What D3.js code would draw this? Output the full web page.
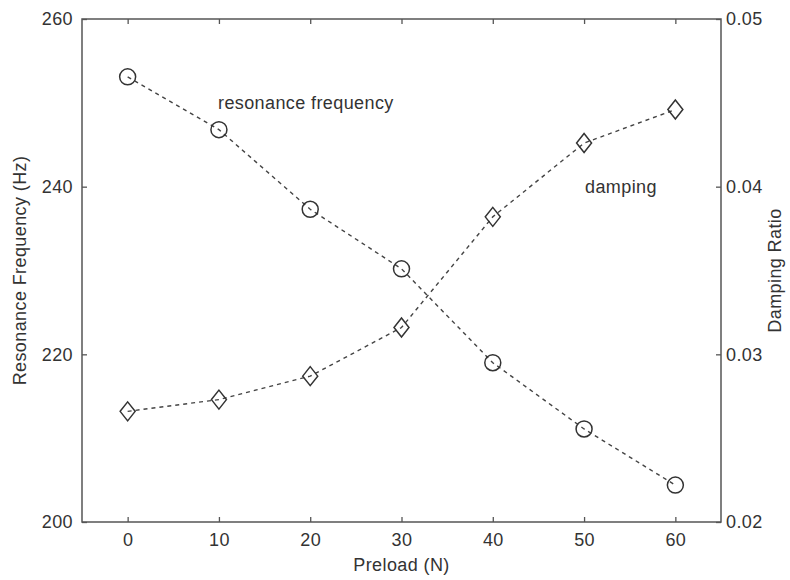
<!DOCTYPE html>
<html>
<head>
<meta charset="utf-8">
<script src="https://cdn.jsdelivr.net/npm/d3@7"></script>
<style>
  html, body { margin: 0; padding: 0; background: #fff; }
  text { font-family: "Liberation Sans", Arial, sans-serif; letter-spacing: 0.4px; }
</style>
</head>
<body>
<script>
// Preload sweep and measured response
const preload = [0, 10, 20, 30, 40, 50, 60];
const resonanceFrequency = [253.1, 246.8, 237.3, 230.2, 219.0, 211.1, 204.4];
const dampingRatio = [0.0266, 0.0273, 0.0287, 0.0316, 0.0382, 0.0426, 0.0446];

const xTicks = [0, 10, 20, 30, 40, 50, 60];
const freqTicks = [200, 220, 240, 260];
const dampTicks = [0.02, 0.03, 0.04, 0.05];

const W = 790, H = 580;
const m = { left: 82, right: 69, top: 19, bottom: 58 };

const svg = d3.select("body").append("svg")
  .attr("width", W).attr("height", H);

const x = d3.scaleLinear().domain([-5, 65]).range([m.left, W - m.right]);
const yL = d3.scaleLinear().domain([200, 260]).range([H - m.bottom, m.top]);
const yR = d3.scaleLinear().domain([0.02, 0.05]).range([H - m.bottom, m.top]);

const axisColor = "#555";
const textColor = "#333";
const fs = 18;

// frame
svg.append("rect")
  .attr("x", m.left).attr("y", m.top)
  .attr("width", W - m.left - m.right).attr("height", H - m.top - m.bottom)
  .attr("fill", "none").attr("stroke", axisColor).attr("stroke-width", 1.5);

function styleAxis(g, labels) {
  g.select(".domain").remove();
  g.selectAll(".tick line").attr("stroke", axisColor).attr("stroke-width", 1.3);
  g.selectAll(".tick text")
    .attr("fill", textColor)
    .style("font-size", fs + "px")
    .style("font-family", "'Liberation Sans', Arial, sans-serif")
    .attr("opacity", labels ? 1 : 0);
}

// bottom and top x ticks (pointing inward)
svg.append("g").attr("transform", `translate(0,${H - m.bottom})`)
  .call(d3.axisBottom(x).tickValues(xTicks).tickSize(-5).tickPadding(11).tickFormat(d3.format("d")))
  .call(g => styleAxis(g, true));
svg.append("g").attr("transform", `translate(0,${m.top})`)
  .call(d3.axisTop(x).tickValues(xTicks).tickSize(-5).tickFormat(""))
  .call(g => styleAxis(g, false));

// left frequency axis
svg.append("g").attr("transform", `translate(${m.left},0)`)
  .call(d3.axisLeft(yL).tickValues(freqTicks).tickSize(-5).tickPadding(9).tickFormat(d3.format("d")))
  .call(g => styleAxis(g, true));

// right damping axis
svg.append("g").attr("transform", `translate(${W - m.right},0)`)
  .call(d3.axisRight(yR).tickValues(dampTicks).tickSize(-5).tickPadding(5).tickFormat(d3.format(".2f")))
  .call(g => styleAxis(g, true));

// axis titles
svg.append("text")
  .attr("x", (m.left + W - m.right) / 2).attr("y", H - 9)
  .attr("text-anchor", "middle").attr("fill", textColor)
  .style("font-size", fs + "px").text("Preload (N)");

svg.append("text")
  .attr("transform", `translate(26,${(m.top + H - m.bottom) / 2}) rotate(-90)`)
  .attr("text-anchor", "middle").attr("fill", textColor)
  .style("font-size", fs + "px").text("Resonance Frequency (Hz)");

svg.append("text")
  .attr("transform", `translate(781,${(m.top + H - m.bottom) / 2}) rotate(-90)`)
  .attr("text-anchor", "middle").attr("fill", textColor)
  .style("font-size", fs + "px").text("Damping Ratio");

// series lines
const lineStyle = sel => sel.attr("fill", "none").attr("stroke", "#444")
  .attr("stroke-width", 1.4).attr("stroke-dasharray", "4,4");

const freqPts = preload.map((p, i) => [p, resonanceFrequency[i]]);
const dampPts = preload.map((p, i) => [p, dampingRatio[i]]);

svg.append("path").datum(freqPts)
  .attr("d", d3.line().x(d => x(d[0])).y(d => yL(d[1])))
  .call(lineStyle);
svg.append("path").datum(dampPts)
  .attr("d", d3.line().x(d => x(d[0])).y(d => yR(d[1])))
  .call(lineStyle);

// circle markers for frequency
svg.append("g").selectAll("circle").data(freqPts).join("circle")
  .attr("cx", d => x(d[0])).attr("cy", d => yL(d[1])).attr("r", 8)
  .attr("fill", "none").attr("stroke", "#333").attr("stroke-width", 1.5);

// diamond markers for damping
svg.append("g").selectAll("path").data(dampPts).join("path")
  .attr("transform", d => `translate(${x(d[0])},${yR(d[1])})`)
  .attr("d", "M0,-9.5L7.5,0L0,9.5L-7.5,0Z")
  .attr("fill", "none").attr("stroke", "#333").attr("stroke-width", 1.5);

// series annotations
svg.append("text").attr("x", 218).attr("y", 109)
  .attr("fill", textColor).style("font-size", fs + "px").text("resonance frequency");
svg.append("text").attr("x", 585).attr("y", 193)
  .attr("fill", textColor).style("font-size", fs + "px").text("damping");
</script>
</body>
</html>
